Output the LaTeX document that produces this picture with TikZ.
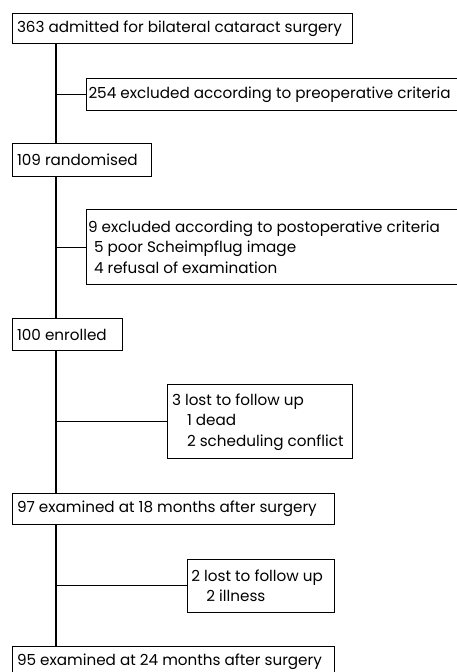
\documentclass[tikz,border=0pt]{standalone}
\usepackage{fontspec}
\setmainfont{Poppins}
\begin{document}
\begin{tikzpicture}[x=1pt,y=-1pt,
  box/.style={draw, line width=1.1pt, anchor=north west, inner sep=0pt},
  txt/.style={anchor=west, align=left, inner sep=0pt, font=\fontsize{15.2}{20.5}\selectfont},
  link/.style={line width=1.1pt}]
\useasboundingbox (0,0) rectangle (457,672);
\clip (0,0) rectangle (457,672);
% boxes
\node[box, minimum width=339.7pt, minimum height=30.3pt] (b1) at (12.3,13) {};
\node[box, minimum width=400pt, minimum height=32.3pt] (b2) at (86.3,77.7) {};
\node[box, minimum width=138.7pt, minimum height=32.4pt] (b3) at (12.3,143.3) {};
\node[box, minimum width=400pt, minimum height=74.7pt] (b4) at (86.3,209.3) {};
\node[box, minimum width=109.4pt, minimum height=31.7pt] (b5) at (12.3,318.3) {};
\node[box, minimum width=184.4pt, minimum height=74pt] (b6) at (167.3,384.3) {};
\node[box, minimum width=321.4pt, minimum height=31.3pt] (b7) at (12.3,492.7) {};
\node[box, minimum width=147pt, minimum height=53pt] (b8) at (186.7,558.7) {};
\node[box, minimum width=321.4pt, minimum height=31.3pt] (b9) at (12.3,645.7) {};
% texts
\node[txt] (t1) at ([xshift=4.5pt]b1.west) {363 admitted for bilateral cataract surgery};
\node[txt] (t2) at ([xshift=2pt]b2.west) {254 excluded according to preoperative criteria};
\node[txt] (t3) at ([xshift=4.5pt]b3.west) {109 randomised};
\node[txt] (t4) at ([xshift=1.5pt]b4.west) {9 excluded according to postoperative criteria\\\hspace*{6pt}5 poor Scheimpflug image\\\hspace*{6pt}4 refusal of examination};
\node[txt] (t5) at ([xshift=4.5pt]b5.west) {100 enrolled};
\node[txt] (t6) at ([xshift=4.5pt]b6.west) {3 lost to follow up\\\hspace*{15pt}1 dead\\\hspace*{15pt}2 scheduling conflict};
\node[txt] (t7) at ([xshift=4.5pt]b7.west) {97 examined at 18 months after surgery};
\node[txt] (t8) at ([xshift=4.5pt]b8.west) {2 lost to follow up\\\hspace*{15pt}2 illness};
\node[txt] (t9) at ([xshift=4.5pt]b9.west) {95 examined at 24 months after surgery};
% trunk
\coordinate (c1) at (56,0);
\draw[link] (b1.south -| c1) -- (b3.north -| c1);
\draw[link] (b3.south -| c1) -- (b5.north -| c1);
\draw[link] (b5.south -| c1) -- (b7.north -| c1);
\draw[link] (b7.south -| c1) -- (b9.north -| c1);
% branches
\draw[link] (b2.west -| c1) -- (b2.west);
\draw[link] (b4.west -| c1) -- (b4.west);
\draw[link] (b6.west -| c1) -- (b6.west);
\draw[link] (b8.west -| c1) -- (b8.west);
\end{tikzpicture}
\end{document}
